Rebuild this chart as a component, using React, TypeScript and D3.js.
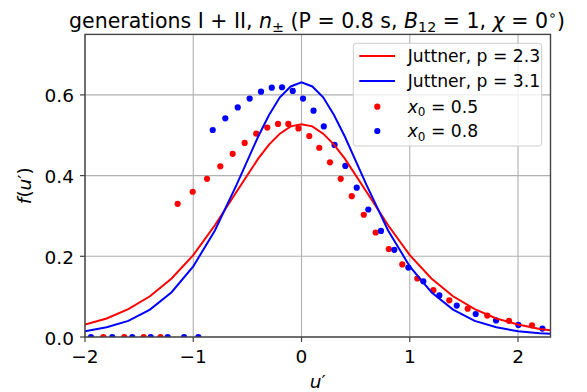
import React from "react";
import * as d3 from "d3";

// ---- data ----
const xTicks = [-2, -1, 0, 1, 2];
const yTicks = [0, 0.2, 0.4, 0.6];
const yTickLabels = ["0.0", "0.2", "0.4", "0.6"];
const xTickLabels = ["\u22122", "\u22121", "0", "1", "2"];

const curveU = [-2.0, -1.8, -1.6, -1.4, -1.2, -1.0, -0.8, -0.6, -0.4, -0.3, -0.2, -0.1, 0.0, 0.1, 0.2, 0.3, 0.4, 0.6, 0.8, 1.0, 1.2, 1.4, 1.6, 1.8, 2.0, 2.2, 2.3];
const juttnerP23 = [0.031, 0.046, 0.069, 0.101, 0.145, 0.203, 0.277, 0.36, 0.442, 0.477, 0.504, 0.522, 0.527, 0.522, 0.504, 0.477, 0.442, 0.36, 0.277, 0.203, 0.145, 0.101, 0.069, 0.046, 0.031, 0.02, 0.017];
const juttnerP31 = [0.014, 0.024, 0.04, 0.068, 0.111, 0.175, 0.264, 0.377, 0.497, 0.55, 0.594, 0.621, 0.631, 0.621, 0.594, 0.55, 0.497, 0.377, 0.264, 0.175, 0.111, 0.068, 0.04, 0.024, 0.014, 0.009, 0.008];

const dotsX05U = [-1.831, -1.637, -1.458, -1.303, -1.144, -1.005, -0.873, -0.75, -0.636, -0.525, -0.418, -0.316, -0.217, -0.122, -0.028, 0.072, 0.164, 0.263, 0.362, 0.464, 0.575, 0.685, 0.806, 0.931, 1.07, 1.218, 1.365, 1.535, 1.716, 1.917, 2.129];
const dotsX05F = [0, 0, 0, 0, 0.33, 0.36, 0.392, 0.423, 0.454, 0.481, 0.504, 0.519, 0.528, 0.528, 0.517, 0.498, 0.469, 0.433, 0.392, 0.349, 0.303, 0.259, 0.218, 0.18, 0.145, 0.116, 0.091, 0.07, 0.053, 0.04, 0.029];

const dotsX08U = [-1.945, -1.748, -1.563, -1.393, -1.236, -1.085, -0.953, -0.82, -0.704, -0.589, -0.479, -0.374, -0.275, -0.18, -0.081, 0.014, 0.111, 0.206, 0.305, 0.405, 0.51, 0.617, 0.734, 0.857, 0.987, 1.125, 1.273, 1.434, 1.609, 1.797, 2.003, 2.225];
const dotsX08F = [0, 0, 0, 0, 0, 0, 0, 0.513, 0.542, 0.569, 0.591, 0.608, 0.618, 0.619, 0.61, 0.591, 0.561, 0.522, 0.476, 0.424, 0.37, 0.316, 0.263, 0.216, 0.172, 0.138, 0.103, 0.078, 0.057, 0.041, 0.03, 0.021];

const RED = "#ff0000";
const BLUE = "#0000ff";
const FONT = "DejaVu Sans";

export default function App() {
  const W = 587, H = 392;
  const left = 85, right = 550.5, top = 34.4, bottom = 337;
  const x = d3.scaleLinear().domain([-2, 2.3]).range([left, right]);
  const y = d3.scaleLinear().domain([0, 0.75]).range([bottom, top]);
  const line = d3.line<number>().x((_, i) => x(curveU[i])).y((d) => y(d));

  const lg = { x: 353.3, y: 43.3, w: 188.4, h: 102.7 };
  const rows = [56, 81, 106.7, 131];
  const txtX = 407.7;
  const lfs = 17.2;
  const R = 3.1;

  return (
    <svg width={W} height={H} style={{ position: "absolute", left: 0, top: 0, background: "#fff" }} fontFamily={FONT}>
      <defs>
        <clipPath id="plotclip">
          <rect x={left} y={top} width={right - left} height={bottom - top} />
        </clipPath>
      </defs>
      <rect x={0} y={0} width={W} height={H} fill="#fff" />
      {/* grid */}
      {xTicks.map((t) => (
        <line key={"gx" + t} x1={x(t)} x2={x(t)} y1={top} y2={bottom} stroke="#b0b0b0" strokeWidth={1.1} />
      ))}
      {yTicks.map((t) => (
        <line key={"gy" + t} x1={left} x2={right} y1={y(t)} y2={y(t)} stroke="#b0b0b0" strokeWidth={1.1} />
      ))}
      <g clipPath="url(#plotclip)">
        {dotsX05U.map((u, i) => (
          <circle key={"r" + i} cx={x(u)} cy={y(dotsX05F[i])} r={R} fill={RED} />
        ))}
        {dotsX08U.map((u, i) => (
          <circle key={"b" + i} cx={x(u)} cy={y(dotsX08F[i])} r={R} fill={BLUE} />
        ))}
        <path d={line(juttnerP23) || ""} fill="none" stroke={RED} strokeWidth={2} />
        <path d={line(juttnerP31) || ""} fill="none" stroke={BLUE} strokeWidth={2} />
      </g>
      {/* spines */}
      <rect x={left} y={top} width={right - left} height={bottom - top} fill="none" stroke="#444" strokeWidth={1.4} />
      {/* ticks */}
      {xTicks.map((t, i) => (
        <g key={"tx" + t}>
          <line x1={x(t)} x2={x(t)} y1={bottom} y2={bottom + 5} stroke="#444" strokeWidth={1.2} />
          <text x={x(t)} y={363.3} fontSize={18.5} textAnchor="middle" fill="#000">{xTickLabels[i]}</text>
        </g>
      ))}
      {yTicks.map((t, i) => (
        <g key={"ty" + t}>
          <line x1={left - 5} x2={left} y1={y(t)} y2={y(t)} stroke="#444" strokeWidth={1.2} />
          <text x={74} y={y(t) + 7.5} fontSize={18.5} textAnchor="end" fill="#000">{yTickLabels[i]}</text>
        </g>
      ))}
      {/* axis labels */}
      <text x={(left + right) / 2} y={388} fontSize={18.5} textAnchor="middle" style={{ whiteSpace: "pre" }}>
        <tspan fontStyle="italic">u</tspan>
        <tspan>{"\u2032"}</tspan>
      </text>
      <text transform={`translate(31,${(top + bottom) / 2}) rotate(-90)`} fontSize={18.5} textAnchor="middle" style={{ whiteSpace: "pre" }}>
        <tspan fontStyle="italic">f</tspan>
        <tspan>(</tspan>
        <tspan fontStyle="italic">u</tspan>
        <tspan>{"\u2032"}</tspan>
        <tspan>)</tspan>
      </text>
      {/* title */}
      <text x={317} y={28} fontSize={20.5} textAnchor="middle" style={{ whiteSpace: "pre" }}>
        <tspan>generations I + II, </tspan>
        <tspan fontStyle="italic">n</tspan>
        <tspan fontSize={14.3} dy={4}>±</tspan>
        <tspan dy={-4}> (P = 0.8 s, </tspan>
        <tspan fontStyle="italic">B</tspan>
        <tspan fontSize={14.3} dy={4}>12</tspan>
        <tspan dy={-4}> = 1, </tspan>
        <tspan fontStyle="italic">χ</tspan>
        <tspan> = 0</tspan>
        <tspan fontSize={14.3} dy={-8}>∘</tspan>
        <tspan dy={8}>)</tspan>
      </text>
      {/* legend */}
      <rect x={lg.x} y={lg.y} width={lg.w} height={lg.h} rx={3} fill="#fff" fillOpacity={0.8} stroke="#cccccc" strokeWidth={1} />
      <line x1={359.3} x2={395} y1={rows[0]} y2={rows[0]} stroke={RED} strokeWidth={2} />
      <line x1={359.3} x2={395} y1={rows[1]} y2={rows[1]} stroke={BLUE} strokeWidth={2} />
      <circle cx={377.3} cy={rows[2]} r={R} fill={RED} />
      <circle cx={377.3} cy={rows[3]} r={R} fill={BLUE} />
      <text x={txtX} y={rows[0] + 6} fontSize={lfs}>Juttner, p = 2.3</text>
      <text x={txtX} y={rows[1] + 6} fontSize={lfs}>Juttner, p = 3.1</text>
      {[["0.5", rows[2]], ["0.8", rows[3]]].map(([v, r]) => (
        <text key={String(v)} x={txtX} y={(r as number) + 6} fontSize={lfs} style={{ whiteSpace: "pre" }}>
          <tspan fontStyle="italic">x</tspan>
          <tspan fontSize={12} dy={3.5}>0</tspan>
          <tspan dy={-3.5}> = {v}</tspan>
        </text>
      ))}
    </svg>
  );
}
